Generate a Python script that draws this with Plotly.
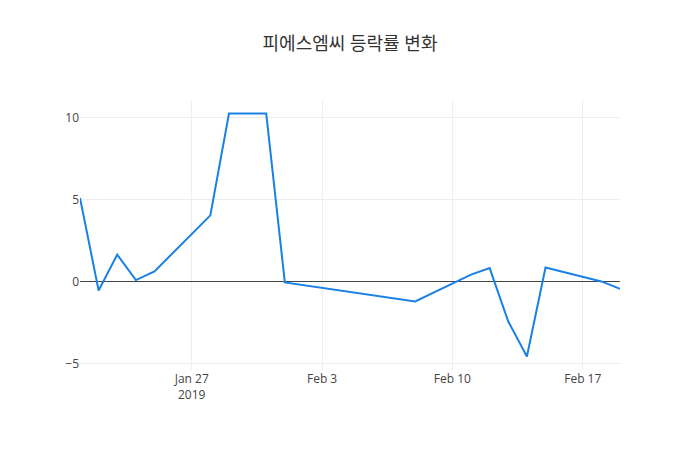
import plotly.graph_objects as go

dates = ["2019-01-21", "2019-01-22", "2019-01-23", "2019-01-24", "2019-01-25",
         "2019-01-28", "2019-01-29", "2019-01-31", "2019-02-01", "2019-02-08",
         "2019-02-11", "2019-02-12", "2019-02-13", "2019-02-14", "2019-02-15",
         "2019-02-18", "2019-02-19"]
change = [5.1, -0.53, 1.65, 0.1, 0.63,
          4.04, 10.24, 10.24, -0.04, -1.2,
          0.43, 0.83, -2.42, -4.55, 0.87,
          0.02, -0.43]

fig = go.Figure(go.Scatter(x=dates, y=change, mode="lines",
                           line=dict(color="#1a80e6", width=2)))
fig.update_layout(
    title=dict(text="피에스엠씨 등락률 변화", x=0.5, xanchor="center",
               font=dict(size=18, color="#333")),
    width=700, height=450,
    font=dict(family="Open Sans, Noto Sans CJK KR", color="#444"),
    plot_bgcolor="white", paper_bgcolor="white",
    margin=dict(l=80, r=80, t=100, b=80),
    showlegend=False,
    xaxis=dict(showgrid=True, gridcolor="#eee", zeroline=False, showline=False),
    yaxis=dict(showgrid=True, gridcolor="#eee", zeroline=True, zerolinecolor="#444",
               zerolinewidth=1, showline=False),
)
fig.write_html("out.html")
